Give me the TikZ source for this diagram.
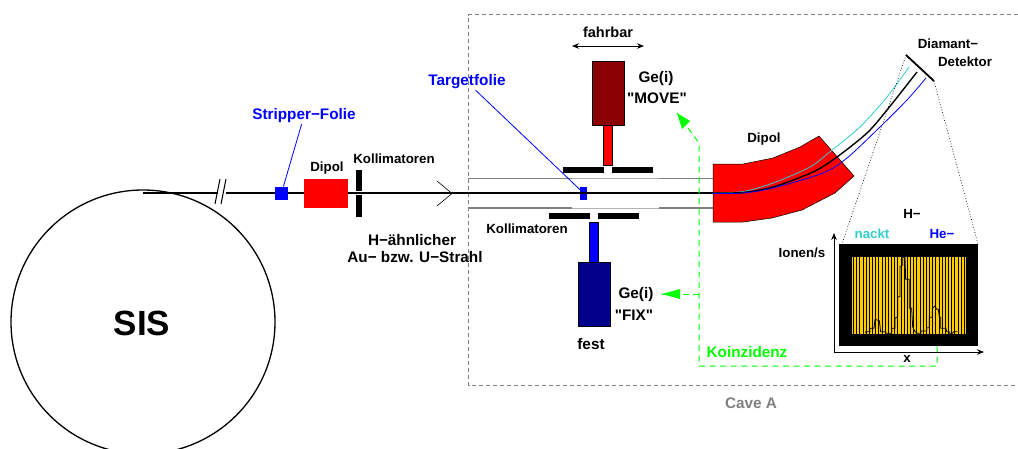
\documentclass[tikz,border=0pt]{standalone}
\usepackage{fontspec}
\newfontfamily\labelfont{Liberation Sans}
\usetikzlibrary{arrows.meta}
\definecolor{darkgeblue}{RGB}{0,0,139}
\definecolor{darkgered}{RGB}{139,0,0}
\definecolor{beamcyan}{RGB}{50,205,205}
\definecolor{histyellow}{RGB}{255,204,0}
\begin{document}
\begin{tikzpicture}[
    x = 1pt,
    y = -1pt,
    >={Stealth[length=7pt, width=5.5pt]},
    lbl/.style = {font=\labelfont\fontsize{15.3}{17}\selectfont\bfseries, inner sep=1pt, outer sep=0pt},
    small lbl/.style = {lbl, font=\labelfont\fontsize{13.3}{15}\selectfont\bfseries},
    part/.style = {rectangle, inner sep=0pt, outer sep=0pt, draw=black, line width=0.7pt},
    slit/.style = {rectangle, fill=black, inner sep=0pt, outer sep=0pt},
    trigger/.style = {green, line width=1pt, dash pattern=on 6pt off 4.5pt},
    pipe/.style = {gray, line width=1.5pt},
    ]

\useasboundingbox (0,0) rectangle (1018,448);

% ring
\begin{scope}
\clip (0,0) rectangle (1018,448);
\node[circle, draw=black, line width=1.3pt, minimum size=264pt, inner sep=0pt] (ring) at (143,322){};
\end{scope}
\node[font=\labelfont\fontsize{35}{37}\selectfont\bfseries, inner sep=0pt] (ring_lbl) at (142,323){SIS};

% cave
\draw [gray, line width=0.8pt, dash pattern=on 4pt off 3pt] (1018,14.5) -| (468.5,385.5) -- (1018,385.5);
\node[lbl, text=gray] (cave_lbl) at (751,403){Cave A};

% pipes
\coordinate (pipe_a) at (468,178.5);
\coordinate (pipe_b) at (572,178.5);
\coordinate (pipe_c) at (659,178.5);
\coordinate (pipe_d) at (713,178.5);
\coordinate (pipe_e) at (468,208);
\coordinate (pipe_f) at (572,208);
\coordinate (pipe_g) at (659,208);
\coordinate (pipe_h) at (713,208);
\draw [pipe] (pipe_a) -- (pipe_b);
\draw [pipe] (pipe_c) -- (pipe_d);
\draw [pipe] (pipe_e) -- (pipe_f);
\draw [pipe] (pipe_g) -- (pipe_h);
\draw [gray!60, line width=0.9pt] (pipe_b) -- (pipe_c);
\draw [gray!60, line width=0.9pt] (pipe_f) -- (pipe_g);

% beam
\coordinate (beam_0) at (143,193);
\coordinate (beam_1) at (217.5,193);
\coordinate (beam_2) at (226,193);
\coordinate (beam_3) at (713,193);
\draw [black, line width=1.3pt] (beam_0) -- (beam_1);
\draw [black, line width=1.3pt] (beam_2) -- (beam_3);
\coordinate (break_1) at (215,204);
\coordinate (break_2) at (220,179);
\coordinate (break_3) at (221,204);
\coordinate (break_4) at (226,179);
\draw [black, line width=1pt] (break_1) -- (break_2);
\draw [black, line width=1pt] (break_3) -- (break_4);
\coordinate (tip_a) at (437,181);
\coordinate (tip_b) at (452,193.5);
\coordinate (tip_c) at (437,206);
\draw [black, line width=0.6pt] (tip_a) -- (tip_b) -- (tip_c);

% left part
\node[slit, fill=blue, minimum size=13pt] (stripper) at (281.5,193){};
\node[slit, fill=red, minimum width=44pt, minimum height=29pt] (dipol_1) at (326,193.5){};
\node[slit, minimum width=6.5pt, minimum height=21pt] (slit_1) at (359,180.5){};
\node[slit, minimum width=6.5pt, minimum height=22pt] (slit_2) at (359,206){};
\node[lbl, text=blue] (stripper_lbl) at (304,116){Stripper−Folie};
\node[small lbl] (dipol_1_lbl) at (327,168){Dipol};
\node[small lbl] (slit_lbl) at (394,159){Kollimatoren};
\node[lbl] (beam_lbl_1) at (412,240){H−ähnlicher};
\node[lbl] (beam_lbl_2) at (415,257){Au− bzw. U−Strahl};
\draw [blue, line width=0.8pt] (stripper_lbl) -- (stripper);

% target and detectors
\node[slit, fill=blue, minimum width=7pt, minimum height=13pt] (target) at (583.5,193){};
\draw [black, line width=1.3pt] (target.west) -- (target.east);
\node[lbl, text=blue] (target_lbl) at (467,82){Targetfolie};
\draw [blue, line width=0.8pt] (target_lbl) -- (target);

\node[part, fill=darkgered, minimum width=32pt, minimum height=64pt] (ge_move) at (608,93){};
\node[part, fill=red, minimum width=9.5pt, minimum height=40pt] (ge_move_arm) at (608,145){};
\node[slit, minimum width=41pt, minimum height=6.5pt] (slit_3) at (583.5,170){};
\node[slit, minimum width=41pt, minimum height=6.5pt] (slit_4) at (632.5,170){};
\node[slit, minimum width=41pt, minimum height=6.5pt] (slit_5) at (569.5,216){};
\node[slit, minimum width=41pt, minimum height=6.5pt] (slit_6) at (618.5,216){};
\node[part, fill=blue, minimum width=9pt, minimum height=40pt] (ge_fix_arm) at (593.5,242){};
\node[part, fill=darkgeblue, minimum width=32pt, minimum height=64pt] (ge_fix) at (594,294){};

\node[lbl, font=\labelfont\fontsize{14.5}{16}\selectfont\bfseries] (drive_lbl) at (608,32){fahrbar};
\coordinate (drive_a) at (572,46);
\coordinate (drive_b) at (644,46);
\draw [<->, black, line width=0.6pt] (drive_a) -- (drive_b);
\node[lbl] (move_lbl_1) at (656,79){Ge(i)};
\node[lbl] (move_lbl_2) at (657,98){"MOVE"};
\node[small lbl] (slit_lbl_2) at (527,229){Kollimatoren};
\node[lbl] (fix_lbl_1) at (636,295){Ge(i)};
\node[lbl] (fix_lbl_2) at (634,315){"FIX"};
\node[lbl] (fest_lbl) at (591,344){fest};

% second dipole
\draw [black, line width=0.5pt, fill=red] (713,164) -- (743,164) -- (773,158) -- (800,147) -- (819,136)
    -- (854,176) -- (835,193) -- (802,210) -- (772,218) -- (743,222) -- (713,222) -- cycle;
\node[small lbl] (dipol_2_lbl) at (764,139){Dipol};
\draw [beamcyan, line width=0.8pt] plot[smooth, tension=0.5] coordinates {(712,193) (743,191.5) (773,183) (810,167) (832,150) (860,127) (887,97) (909,67)};
\draw [black, line width=1.4pt] plot[smooth, tension=0.5] coordinates {(712,193) (743,192.5) (773,187) (813,172) (837,157) (867,133) (887,110) (917,72)};
\draw [blue, line width=0.8pt] plot[smooth, tension=0.5] coordinates {(712,193.5) (743,193) (773,188) (823,173) (847,158) (880,127) (907,100) (926,78)};

% detector
\coordinate (diamant_a) at (906,55);
\coordinate (diamant_b) at (934,81);
\coordinate (hist_a) at (842,244);
\coordinate (hist_b) at (978,244);
\draw [black, line width=0.7pt, dotted] (diamant_a) -- (hist_a);
\draw [black, line width=0.7pt, dotted] (diamant_b) -- (hist_b);
\draw [black, line width=1.8pt] (diamant_a) -- (diamant_b);
\node[small lbl] (diamant_lbl_1) at (948,44){Diamant−};
\node[small lbl] (diamant_lbl_2) at (965,62){Detektor};

% spectrum
\node[slit, minimum width=139pt, minimum height=102pt] (hist) at (908.5,295){};
\node[slit, fill=histyellow, minimum width=114pt, minimum height=77pt] (hist_in) at (909,295.5){};
\foreach \i in {0,...,35}
    \draw [black, line width=1pt] (853.5+\i*3.17,257) -- (853.5+\i*3.17,334);
\begin{scope}[shift={(820,200)}, x=0.3333pt, y=-0.3333pt]
\draw [black, line width=0.8pt] (137,400) -- (137,395) -- (150,395) -- (150,385) -- (162,385) -- (165,358)
    -- (178,362) -- (182,395) -- (197,395) -- (197,400) -- (215,400) -- (215,385) -- (225,385) -- (225,355)
    -- (233,350) -- (233,290) -- (240,290) -- (240,200) -- (248,195) -- (248,172) -- (255,172) -- (257,238)
    -- (268,238) -- (268,325) -- (275,325) -- (278,380) -- (285,395) -- (292,400) -- (303,400) -- (303,393)
    -- (320,393) -- (320,383) -- (328,383) -- (328,352) -- (337,352) -- (337,325) -- (345,318) -- (350,328)
    -- (355,328) -- (358,352) -- (362,352) -- (362,385) -- (378,385) -- (380,395) -- (388,395) -- (388,400)
    -- (398,400) -- (400,395) -- (412,395);
\end{scope}
\coordinate (axis_o) at (834,352);
\coordinate (axis_x) at (984,352);
\coordinate (axis_y) at (834,233);
\draw [->, black, line width=0.9pt] (axis_o) -- (axis_x);
\draw [->, black, line width=0.9pt] (axis_o) -- (axis_y);
\node[small lbl] (x_lbl) at (907,359){x};
\node[small lbl] (y_lbl) at (802,253){Ionen/s};
\node[small lbl] (h_lbl) at (912,214){H−};
\node[small lbl, text=beamcyan] (nackt_lbl) at (872,234){nackt};
\node[small lbl, text=blue] (he_lbl) at (942,234){He−};

% coincidence
\coordinate (coin_a) at (937,346);
\coordinate (coin_b) at (937,366);
\coordinate (coin_c) at (699,366);
\coordinate (coin_d) at (699,294);
\coordinate (coin_e) at (699,143);
\coordinate (coin_f) at (662,294);
\coordinate (coin_g) at (677,113);
\draw [trigger] (coin_a) -- (coin_b) -- (coin_c) -- (coin_d) -- (coin_e) -- (coin_g);
\draw [trigger] (coin_d) -- (coin_f);
\fill [green] (662,294) -- (680,289) -- (680,299) -- cycle;
\fill [green] (677,113) -- (690,121) -- (682,129) -- cycle;
\node[lbl, text=green] (coin_lbl) at (747,352){Koinzidenz};

\end{tikzpicture}
\end{document}
